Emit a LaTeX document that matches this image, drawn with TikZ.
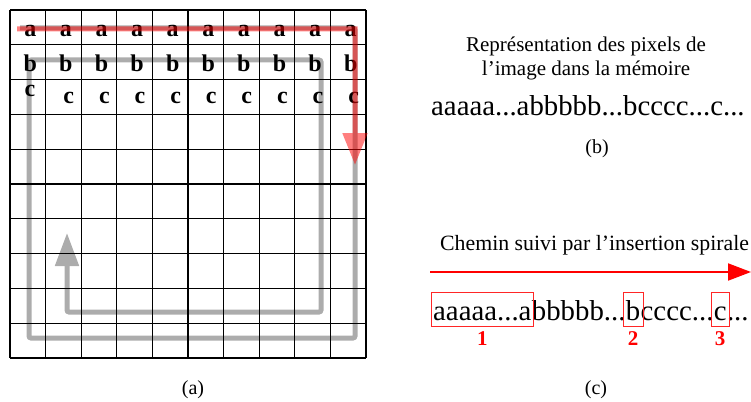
\documentclass[tikz,border=0pt]{standalone}
\usepackage{fontspec}
\setmainfont{Liberation Serif}
\usetikzlibrary{arrows.meta,positioning}

\begin{document}
\begin{tikzpicture}[
        x=1pt, y=-1pt,
        gridline/.style={
            line width=1.3pt,
            black
        },
        letter/.style={
            font=\fontsize{24}{24}\selectfont\bfseries,
            inner sep=0pt,
            anchor=base
        },
        spiral/.style={
            line width=5pt,
            gray!65,
            rounded corners=2pt,
            -{Triangle[length=33pt, width=23pt]}
        },
        redpath/.style={
            line width=5pt,
            red,
            -{Triangle[length=32pt, width=24pt]}
        },
        title/.style={
            font=\fontsize{21}{24}\selectfont,
            align=center,
            inner sep=0pt
        },
        bigtext/.style={
            font=\fontsize{28.8}{30}\selectfont,
            inner sep=0pt
        },
        segment/.style={
            font=\fontsize{28.8}{30}\selectfont,
            inner sep=0pt,
            text height=27pt,
            text depth=6pt,
            anchor=base west
        },
        markbox/.style={
            draw=red!85,
            line width=1pt
        },
        numlabel/.style={
            font=\fontsize{21}{21}\selectfont\bfseries,
            text=red,
            inner sep=0pt,
            anchor=base
        },
        caption/.style={
            font=\fontsize{20}{20}\selectfont,
            inner sep=0pt,
            anchor=base
        },
        arrow/.style={
            line width=2pt,
            red,
            -{Triangle[length=23pt, width=17pt]}
        }
    ]

        \useasboundingbox (0,0) rectangle (751,401);

        % (a) image grid and spiral path
        \draw[spiral] (20,28) -- (355,28) -- (355,338) -- (29,338) -- (29,60)
            -- (321,60) -- (321,312) -- (67,312) -- (67,233);

        \foreach \i in {0,...,10} {
            \draw[gridline] ({10+35.6*\i},10) -- ({10+35.6*\i},358);
            \draw[gridline] (10,{10+34.8*\i}) -- (366,{10+34.8*\i});
        }

        \foreach \i in {0,...,9} {
            \node[letter] (a\i) at ({30.3+35.6*\i},37) {a};
            \node[letter] (b\i) at ({30.3+35.6*\i},72) {b};
        }
        \node[letter] (c0) at (30,97) {c};
        \foreach \i in {1,...,9} {
            \node[letter] (c\i) at ({33.2+35.6*\i},103) {c};
        }

        \begin{scope}[transparency group, opacity=0.5]
            \draw[redpath] (17,29) -- (355,29) -- (355,165);
        \end{scope}

        \node[caption] (capa) at (193,394) {(a)};

        % (b) memory layout
        \node[title] (memtitle) at (586,58) {Représentation des pixels de\\l’image dans la mémoire};
        \node[bigtext, anchor=base west] (memstr) at (431,115) {aaaaa...abbbbb...bcccc...c...};
        \node[caption] (capb) at (597,153) {(b)};

        % (c) spiral insertion order
        \node[title, anchor=base west, font=\fontsize{21.8}{24}\selectfont] (pathtitle) at (440,250) {Chemin suivi par l’insertion spirale};
        \coordinate (arrstart) at (430,272);
        \coordinate (arrend) at (751,272);
        \draw[arrow] (arrstart) -- (arrend);

        \node[segment] (s1) at (433,320) {aaaaa...a};
        \node[segment] (s2) at (s1.base east) {bbbbb...};
        \node[segment] (s3) at (s2.base east) {b};
        \node[segment] (s4) at (s3.base east) {cccc...};
        \node[segment] (s5) at (s4.base east) {c};
        \node[segment] (s6) at (s5.base east) {...};

        \draw[markbox] ([xshift=-2pt]s1.north west) rectangle ([xshift=2pt]s1.south east);
        \draw[markbox] ([xshift=-2.5pt]s3.north west) rectangle ([xshift=2.5pt]s3.south east);
        \draw[markbox] ([xshift=-2.5pt]s5.north west) rectangle ([xshift=2.5pt]s5.south east);

        \node[numlabel] (n1) at ([yshift=-19pt]s1.south) {1};
        \node[numlabel] (n2) at ([yshift=-19pt]s3.south) {2};
        \node[numlabel] (n3) at ([yshift=-19pt]s5.south) {3};

        \node[caption] (capc) at (596,394) {(c)};

    \end{tikzpicture}
\end{document}
